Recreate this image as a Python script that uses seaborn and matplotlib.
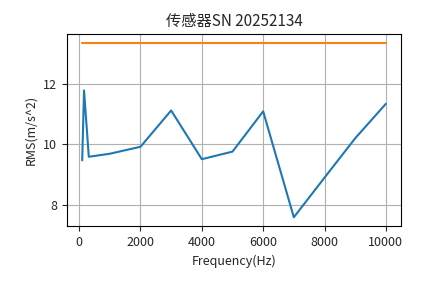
import matplotlib
matplotlib.use("Agg")
import matplotlib.pyplot as plt
import seaborn as sns
import pandas as pd

freq = [100, 160, 315, 1000, 2000, 3000, 4000, 5000, 6000, 7000, 8000, 9000, 10000]
rms = [9.47, 11.78, 9.59, 9.69, 9.92, 11.12, 9.51, 9.76, 11.09, 7.59, 8.9, 10.2, 11.34]
limit_freq = [100, 10000]
limit_val = [13.36, 13.36]

title = "传感器SN 20252134"
xlabel = "Frequency(Hz)"
ylabel = "RMS(m/s^2)"

sns.set_style("ticks")
plt.rcParams['font.family'] = ['Noto Sans CJK SC', 'DejaVu Sans']
plt.rcParams['axes.unicode_minus'] = False

fig = plt.figure(figsize=(4.45, 2.83), dpi=100)
ax = fig.add_axes([0.1506, 0.2014, 0.7506, 0.6786])

df = pd.DataFrame({"f": freq, "v": rms})
dl = pd.DataFrame({"f": limit_freq, "v": limit_val})
sns.lineplot(data=df, x="f", y="v", ax=ax, color="#1f77b4", linewidth=1.5)
sns.lineplot(data=dl, x="f", y="v", ax=ax, color="#ff7f0e", linewidth=1.5)

ax.set_title(title, fontsize=11)
ax.set_xlabel(xlabel, fontsize=9)
ax.set_ylabel(ylabel, fontsize=9)
ax.set_xticks([0, 2000, 4000, 6000, 8000, 10000])
ax.set_yticks([8, 10, 12])
ax.tick_params(labelsize=9)
ax.grid(True, color="#b0b0b0", linewidth=0.8)
for s in ax.spines.values():
    s.set_visible(True)
    s.set_color("black")
    s.set_linewidth(0.8)

fig.savefig("out.png", dpi=100)
